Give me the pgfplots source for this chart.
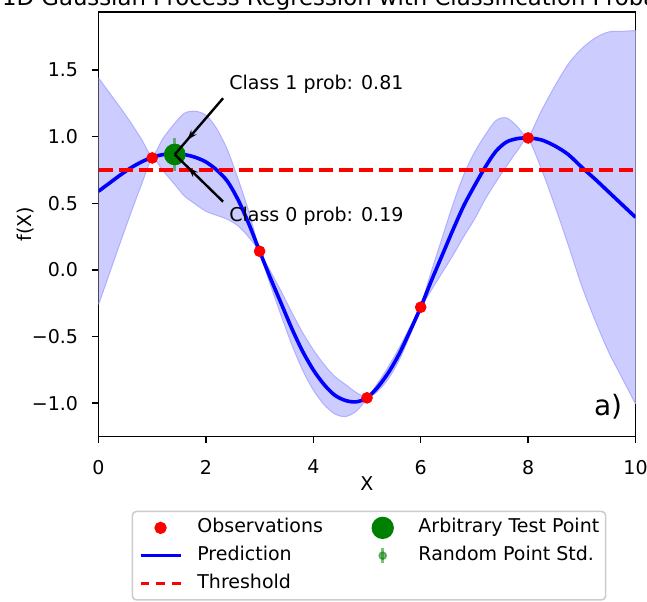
\documentclass[border=0pt]{standalone}
\usepackage{fontspec}
\setmainfont{DejaVu Sans}
\usepackage{pgfplots}
\pgfplotsset{compat=1.18}
\usepackage{pgfplotstable}
\usepgfplotslibrary{fillbetween}
\usetikzlibrary{decorations.markings, arrows.meta}

\definecolor{bandfill}{RGB}{204,204,255}
\definecolor{bandedge}{RGB}{175,175,255}
\definecolor{mplgreen}{RGB}{0,128,0}
\definecolor{legendedge}{RGB}{204,204,204}

% GP posterior: mean and 95% band
\pgfplotstableread{
x     m      lo     hi
0.0   0.59   -0.26  1.44
0.2   0.65   -0.03  1.33
0.4   0.71   0.20   1.22
0.6   0.765  0.425  1.105
0.8   0.81   0.64   0.98
1.0   0.845  0.835  0.855
1.2   0.865  0.745  0.985
1.4   0.870  0.65   1.09
1.6   0.865  0.555  1.175
1.8   0.845  0.495  1.19
2.0   0.81   0.44   1.16
2.2   0.75   0.41   1.06
2.4   0.665  0.38   0.90
2.6   0.525  0.33   0.68
2.8   0.345  0.245  0.435
3.0   0.14   0.13   0.15
3.2   -0.06  -0.11  -0.01
3.4   -0.25  -0.34  -0.16
3.6   -0.44  -0.56  -0.32
3.8   -0.61  -0.75  -0.47
4.0   -0.75  -0.90  -0.60
4.2   -0.86  -1.01  -0.71
4.4   -0.94  -1.08  -0.80
4.6   -0.98  -1.10  -0.86
4.8   -0.99  -1.06  -0.92
5.0   -0.96  -0.97  -0.95
5.2   -0.88  -0.91  -0.85
5.4   -0.77  -0.815 -0.725
5.6   -0.63  -0.675 -0.585
5.8   -0.46  -0.49  -0.43
6.0   -0.28  -0.29  -0.27
6.2   -0.08  -0.15  -0.01
6.4   0.11   -0.02  0.24
6.6   0.30   0.11   0.49
6.8   0.48   0.25   0.71
7.0   0.63   0.38   0.88
7.2   0.77   0.53   1.01
7.4   0.89   0.66   1.12
7.6   0.96   0.78   1.14
7.8   0.985  0.895  1.075
8.0   0.99   0.98   1.00
8.25  0.975  0.755  1.195
8.5   0.93   0.48   1.38
8.75  0.865  0.185  1.545
9.0   0.77   -0.12  1.66
9.25  0.68   -0.38  1.74
9.5   0.585  -0.615 1.785
9.75  0.49   -0.81  1.79
10.0  0.395  -1.005 1.795
}\gpdata

% observed samples
\pgfplotstableread{
x  y
1  0.84
3  0.14
5  -0.96
6  -0.28
8  0.99
}\obsdata

\begin{document}
\begin{tikzpicture}[font=\fontsize{9.5}{11.4}\selectfont]
\begin{axis}[
  scale only axis, width=268.5pt, height=212.25pt,
  xmin=0, xmax=10, ymin=-1.25, ymax=1.935,
  axis line style={line width=0.76pt},
  tick align=outside, tick pos=left,
  major tick length=3.3pt,
  every tick/.style={black, line width=0.76pt},
  xtick={0,2,4,6,8,10}, xticklabels={0,2,4,6,8,10},
  ytick={-1,-0.5,0,0.5,1,1.5},
  yticklabels={−1.0,−0.5,0.0,0.5,1.0,1.5},
  xticklabel style={inner sep=0pt, anchor=north, yshift=-8.25pt},
  yticklabel style={inner sep=0pt, anchor=east, xshift=-6.75pt},
  xlabel={X}, ylabel={f(X)},
  xlabel style={at={(axis description cs:0.5,-0.1119)}, anchor=center, inner sep=0pt},
  ylabel style={at={(axis description cs:-0.135,0.5)}, anchor=center, inner sep=0pt},
  clip mode=individual,
  legend columns=2,
  legend cell align=left,
  legend style={
    at={(axis description cs:0.0618,-0.1748)}, anchor=north west,
    draw=legendedge, line width=0.76pt, rounded corners=1.9pt,
    inner xsep=3.15pt, inner ysep=2.2pt,
    font=\fontsize{9.5}{11.4}\selectfont,
    row sep=1.9pt, column sep=0pt,
    nodes={inner sep=0pt, text height=8.4pt, text depth=3.6pt},
    /tikz/every odd column/.append style={column sep=7.5pt},
    /tikz/every even column/.append style={column sep=19.5pt},
  },
]

% legend entries, filled row by row
\addlegendimage{legend image code/.code={
  \path (0pt,0pt) (20pt,0pt);
  \draw[red, fill=red] plot[mark=*, mark size=2.7pt] coordinates {(10pt,0pt)};}}
\addlegendentry{Observations}
\addlegendimage{legend image code/.code={
  \path (0pt,0pt) (20pt,0pt);
  \draw[mplgreen, fill=mplgreen] plot[mark=*, mark size=5.2pt] coordinates {(10pt,0pt)};}}
\addlegendentry{Arbitrary Test Point}
\addlegendimage{legend image code/.code={
  \draw[blue, line width=1.8pt] (0pt,0pt) -- (20pt,0pt);}}
\addlegendentry{Prediction}
\addlegendimage{legend image code/.code={
  \path (0pt,0pt) (20pt,0pt);
  \draw[mplgreen, opacity=0.5, line width=1.4pt] (10pt,-3.75pt) -- (10pt,3.75pt);
  \draw[mplgreen, fill=mplgreen, opacity=0.5] plot[mark=*, mark size=1.8pt] coordinates {(10pt,0pt)};}}
\addlegendentry{Random Point Std.}
\addlegendimage{legend image code/.code={
  \draw[red, line width=1.8pt, dash pattern=on 4.2pt off 3.7pt] (0pt,0pt) -- (20pt,0pt);}}
\addlegendentry{Threshold}

% confidence band
\addplot[name path=upper, draw=none, smooth, forget plot] table[x=x, y=hi] {\gpdata};
\addplot[name path=lower, draw=none, smooth, forget plot] table[x=x, y=lo] {\gpdata};
\addplot[bandfill, forget plot] fill between[of=upper and lower];
\addplot[bandedge, line width=0.5pt, smooth, forget plot] table[x=x, y=hi] {\gpdata};
\addplot[bandedge, line width=0.5pt, smooth, forget plot] table[x=x, y=lo] {\gpdata};

% posterior mean
\addplot[blue, line width=1.8pt, smooth, forget plot] table[x=x, y=m] {\gpdata};

% observations
\addplot[only marks, mark=*, mark size=2.7pt, red, forget plot] table[x=x, y=y] {\obsdata};

% decision threshold
\addplot[red, line width=1.8pt, dash pattern=on 7pt off 3pt, forget plot]
  coordinates {(0,0.75) (10,0.75)};

% test point with its std
\addplot[only marks, mark=*, mark size=1.8pt, mplgreen, opacity=0.5, forget plot,
  error bars/.cd, y dir=both, y explicit, error mark=none,
  error bar style={line width=1.4pt, mplgreen, opacity=0.5}]
  coordinates {(1.42,0.866) +- (0,0.125)};
\addplot[only marks, mark=*, mark size=5.2pt, mplgreen, forget plot]
  coordinates {(1.42,0.866)};

% class probability annotations
\draw[black, line width=1.2pt, postaction={decorate},
  decoration={markings, mark=at position 0.74 with {\arrow{Stealth[length=5pt, width=3.5pt]}}}]
  (axis cs:2.32,1.288) -- (axis cs:1.42,0.866);
\draw[black, line width=1.2pt, postaction={decorate},
  decoration={markings, mark=at position 0.72 with {\arrow{Stealth[length=5pt, width=3.5pt]}}}]
  (axis cs:2.32,0.512) -- (axis cs:1.42,0.866);
\node[anchor=base west, inner sep=0pt] at (axis cs:2.43,1.35) {Class 1 prob: 0.81};
\node[anchor=base west, inner sep=0pt] at (axis cs:2.43,0.362) {Class 0 prob: 0.19};

\node[anchor=base east, inner sep=0pt, font=\fontsize{14}{16}\selectfont]
  at (rel axis cs:0.9758,0.0506) {a)};
\end{axis}
% figure title, centred over the plot area
\node[anchor=base, inner sep=0pt, font=\fontsize{11.4}{13.7}\selectfont]
  at (134.25pt,215.4pt) {1D Gaussian Process Regression with Classification Probabilities};
\pgfresetboundingbox
\path[use as bounding box] (-49.25pt,-82.25pt) rectangle (274.25pt,218.25pt);
\end{tikzpicture}
\end{document}
